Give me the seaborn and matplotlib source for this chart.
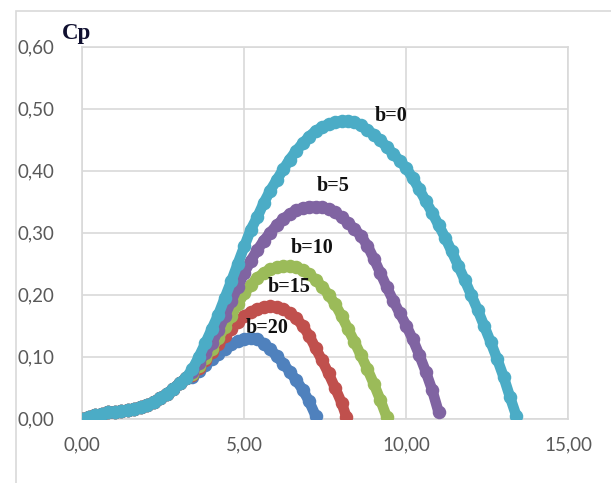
import numpy as np
import pandas as pd
import matplotlib
matplotlib.use("Agg")
import matplotlib.pyplot as plt
import seaborn as sns
from matplotlib.patches import Rectangle

# ---- data ----
low_lambda = [0.0, 0.2, 0.4, 0.6, 0.8, 1.0, 1.2, 1.4, 1.6, 1.8, 2.0, 2.2, 2.4, 2.6, 2.8, 3.0, 3.2]
low_cp = [0.000, 0.003, 0.006, 0.008, 0.010, 0.011, 0.012, 0.014, 0.016, 0.019,
          0.022, 0.027, 0.033, 0.040, 0.048, 0.057, 0.066]

b0_lambda = [3.4, 3.6, 3.8, 4.0, 4.2, 4.4, 4.6, 4.8, 5.0, 5.2, 5.4, 5.6, 5.8, 6.0, 6.2, 6.4,
             6.6, 6.8, 7.0, 7.2, 7.4, 7.6, 7.8, 8.0, 8.2, 8.4, 8.6, 8.8, 9.0, 9.2, 9.4, 9.6,
             9.8, 10.0, 10.2, 10.4, 10.6, 10.8, 11.0, 11.2, 11.4, 11.6, 11.8, 12.0, 12.2,
             12.4, 12.6, 12.8, 13.0, 13.2, 13.4]
b0_cp = [0.080, 0.100, 0.122, 0.145, 0.168, 0.195, 0.222, 0.250, 0.278, 0.305, 0.325, 0.348,
         0.368, 0.385, 0.402, 0.418, 0.432, 0.444, 0.455, 0.464, 0.470, 0.475, 0.478, 0.480,
         0.480, 0.478, 0.473, 0.466, 0.458, 0.449, 0.438, 0.427, 0.416, 0.404, 0.388, 0.370,
         0.351, 0.332, 0.312, 0.292, 0.270, 0.247, 0.224, 0.200, 0.176, 0.150, 0.124, 0.097,
         0.068, 0.035, 0.004]

b5_lambda = [3.4, 3.6, 3.8, 4.0, 4.2, 4.4, 4.6, 4.8, 5.0, 5.2, 5.4, 5.6, 5.8, 6.0, 6.2, 6.4,
             6.6, 6.8, 7.0, 7.2, 7.4, 7.6, 7.8, 8.0, 8.2, 8.4, 8.6, 8.8, 9.0, 9.2, 9.4, 9.6,
             9.8, 10.0, 10.2, 10.4, 10.6, 10.8, 11.0]
b5_cp = [0.075, 0.090, 0.106, 0.122, 0.143, 0.166, 0.190, 0.213, 0.235, 0.255, 0.272, 0.287,
         0.300, 0.312, 0.322, 0.330, 0.336, 0.340, 0.342, 0.342, 0.341, 0.338, 0.333, 0.325,
         0.316, 0.306, 0.295, 0.279, 0.258, 0.235, 0.212, 0.190, 0.170, 0.150, 0.128, 0.103,
         0.076, 0.046, 0.010]

b10_lambda = [3.4, 3.6, 3.8, 4.0, 4.2, 4.4, 4.6, 4.8, 5.0, 5.2, 5.4, 5.6, 5.8, 6.0, 6.2, 6.4,
              6.6, 6.8, 7.0, 7.2, 7.4, 7.6, 7.8, 8.0, 8.2, 8.4, 8.6, 8.8, 9.0, 9.2, 9.4]
b10_cp = [0.072, 0.085, 0.098, 0.113, 0.130, 0.148, 0.166, 0.185, 0.202, 0.216, 0.227, 0.235,
          0.241, 0.244, 0.246, 0.246, 0.244, 0.240, 0.233, 0.224, 0.213, 0.200, 0.185, 0.166,
          0.145, 0.124, 0.102, 0.080, 0.056, 0.030, 0.002]

b15_lambda = [3.4, 3.6, 3.8, 4.0, 4.2, 4.4, 4.6, 4.8, 5.0, 5.2, 5.4, 5.6, 5.8, 6.0, 6.2, 6.4,
              6.6, 6.8, 7.0, 7.2, 7.4, 7.6, 7.8, 8.0, 8.15]
b15_cp = [0.070, 0.082, 0.094, 0.107, 0.120, 0.133, 0.145, 0.156, 0.165, 0.172, 0.177, 0.180,
          0.181, 0.180, 0.177, 0.171, 0.162, 0.150, 0.134, 0.114, 0.094, 0.073, 0.050, 0.026,
          0.003]

b20_lambda = [3.4, 3.6, 3.8, 4.0, 4.2, 4.4, 4.6, 4.8, 5.0, 5.2, 5.4, 5.6, 5.8, 6.0, 6.2, 6.4,
              6.6, 6.8, 7.0, 7.2]
b20_cp = [0.067, 0.077, 0.087, 0.096, 0.105, 0.113, 0.120, 0.125, 0.129, 0.130, 0.128, 0.121,
          0.112, 0.101, 0.089, 0.076, 0.062, 0.047, 0.028, 0.005]

series_names = ["b=20", "b=15", "b=10", "b=5", "b=0"]
series_lambda = [b20_lambda, b15_lambda, b10_lambda, b5_lambda, b0_lambda]
series_cp = [b20_cp, b15_cp, b10_cp, b5_cp, b0_cp]
series_colors = ["#4F81BD", "#C0504D", "#9BBB59", "#8064A2", "#4BACC6"]

label_lambda = [5.69, 6.38, 7.10, 7.75, 9.53]
label_cp = [0.146, 0.212, 0.275, 0.375, 0.488]

x_ticks = [0, 5, 10, 15]
x_tick_labels = ["0,00", "5,00", "10,00", "15,00"]
y_ticks = [0.0, 0.1, 0.2, 0.3, 0.4, 0.5, 0.6]
y_tick_labels = ["0,00", "0,10", "0,20", "0,30", "0,40", "0,50", "0,60"]

# ---- plotting ----
sns.set_theme(style="white")
plt.rcParams['font.family'] = ['Lato', 'DejaVu Sans']

W, H = 611, 483
fig = plt.figure(figsize=(W / 100, H / 100), dpi=100)
ax = fig.add_axes([82.3 / W, 1 - 418.7 / H, (568.3 - 82.3) / W, (418.7 - 46.7) / H])

for i, (name, lam, cp, col) in enumerate(zip(series_names, series_lambda, series_cp, series_colors)):
    d = pd.DataFrame({"lambda": low_lambda + lam, "cp": low_cp + cp})
    sns.lineplot(data=d, x="lambda", y="cp", sort=False, color=col, linewidth=7.6,
                 solid_capstyle="round", solid_joinstyle="round", ax=ax, zorder=3 + 2 * i)
    sns.scatterplot(data=d, x="lambda", y="cp", color=col, s=95, linewidth=0,
                    legend=False, ax=ax, zorder=4 + 2 * i)

ax.set_xlim(0, 15)
ax.set_ylim(0, 0.6)
ax.set_xticks(x_ticks)
ax.set_xticklabels(x_tick_labels)
ax.set_yticks(y_ticks)
ax.set_yticklabels(y_tick_labels)
ax.set_xlabel("")
ax.set_ylabel("")
ax.grid(True, color="#D9D9D9", linewidth=1.2)
ax.set_axisbelow(True)
for sp in ax.spines.values():
    sp.set_color("#D9D9D9")
    sp.set_linewidth(1.2)
ax.tick_params(axis="y", length=0, pad=20, labelsize=13.5, labelcolor="#595959")
ax.tick_params(axis="x", length=0, pad=13, labelsize=13.5, labelcolor="#595959")

for name, lx, ly in zip(series_names, label_lambda, label_cp):
    ax.text(lx, ly, name, ha="center", va="center", fontsize=14.5, fontweight="bold",
            family=["Liberation Serif", "DejaVu Serif"], color="#111111", zorder=20)

fig.text(62 / W, 1 - 34 / H, "Cp", ha="left", va="center", fontsize=16.5, fontweight="bold",
         family=["Liberation Serif", "DejaVu Serif"], color="#101030")

fig.patches.append(Rectangle((16 / W, -0.1), 1.0, (H - 11) / H + 0.1, transform=fig.transFigure,
                             fill=False, edgecolor="#D9D9D9", linewidth=1.2))

fig.savefig("out.png", dpi=100)
